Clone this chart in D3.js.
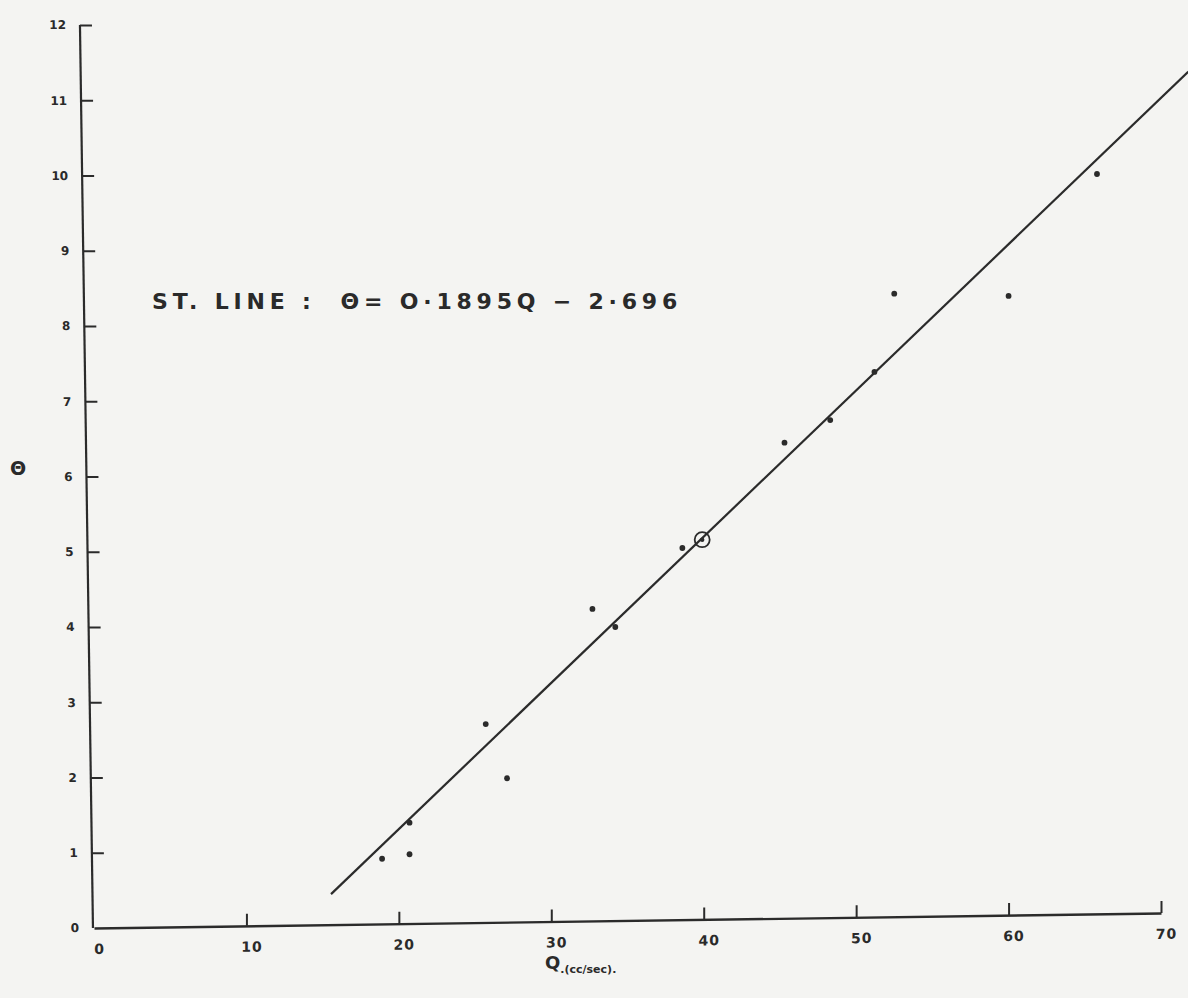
<!DOCTYPE html>
<html>
<head>
<meta charset="utf-8">
<script src="https://cdn.jsdelivr.net/npm/d3@7"></script>
<style>
  html, body { margin: 0; padding: 0; background: #f4f4f2; }
  svg { display: block; }
  text { font-family: "DejaVu Sans", sans-serif; fill: #2a2a2a; }
</style>
</head>
<body>
<svg id="chart" width="1188" height="998"></svg>
<script>
// ---- data ----
const xTicks = [0, 10, 20, 30, 40, 50, 60, 70];
const yTicks = [0, 1, 2, 3, 4, 5, 6, 7, 8, 9, 10, 11, 12];
// observed points: Q (cc/sec) and theta
const pointQ     = [18.9, 20.7, 20.7, 25.7, 27.1, 32.7, 34.2, 38.6, 45.3, 48.3, 51.2, 52.5, 60.0, 65.8];
const pointTheta = [0.92, 0.98, 1.40, 2.71, 1.99, 4.24, 4.00, 5.05, 6.45, 6.75, 7.39, 8.43, 8.40, 10.02];
// circled (highlighted) point
const circledQ = [39.9];
const circledTheta = [5.16];
// fitted straight line, end points as drawn
const lineQ = [15.55, 71.8];
const lineTheta = [0.45, 11.38];
const equationText = "ST. LINE :  \u0398= O\u00B71895Q \u2212 2\u00B7696";
const xLabel = "Q";
const xUnit = ".(cc/sec).";
const yLabel = "\u0398";

// ---- drawing ----
const svg = d3.select("#chart");
const x = d3.scaleLinear().domain([0, 70]).range([94, 1161]);
const y = d3.scaleLinear().domain([0, 12]).range([928, 25]);
const ink = "#2b2b2b";

// y axis (slightly tilted as hand drawn)
const yAxis = d3.axisLeft(y).tickValues(yTicks.filter(d => d > 0)).tickSizeInner(-12).tickSizeOuter(0).tickPadding(14);
const gy = svg.append("g")
  .attr("transform", "translate(79.6,0) skewX(0.825)")
  .call(yAxis);
gy.select(".domain").attr("d", `M0,${y(0)}V${y(12)}`).attr("stroke", ink).attr("stroke-width", 2.2);
gy.selectAll(".tick line").attr("stroke", ink).attr("stroke-width", 2);
gy.selectAll(".tick text").attr("font-size", 12).attr("font-weight", "bold").attr("fill", ink);
// zero label for y
svg.append("g").attr("transform", "translate(79.6,0) skewX(0.825)")
  .append("text").attr("x", -14).attr("y", y(0)).attr("dy", "0.32em")
  .attr("text-anchor", "end").attr("font-size", 12).attr("font-weight", "bold").text("0");

// x axis (slightly tilted)
const xAxis = d3.axisBottom(x).tickValues(xTicks).tickSizeInner(-12).tickSizeOuter(0).tickPadding(16);
const gx = svg.append("g")
  .attr("transform", "translate(0,929.3) skewY(-0.806)")
  .call(xAxis);
gx.select(".domain").attr("stroke", ink).attr("stroke-width", 2.4);
gx.selectAll(".tick line").attr("stroke", ink).attr("stroke-width", 2)
  .attr("y2", d => d === 0 ? 0 : -12);
gx.selectAll(".tick text").attr("font-size", 14).attr("font-weight", "bold").attr("fill", ink)
  .attr("dx", 5).attr("letter-spacing", "1px");

// fitted line
svg.append("path")
  .datum(lineQ.map((q, i) => [q, lineTheta[i]]))
  .attr("d", d3.line().x(d => x(d[0])).y(d => y(d[1])))
  .attr("stroke", ink).attr("stroke-width", 2.2).attr("fill", "none");

// points
svg.append("g").selectAll("circle")
  .data(pointQ.map((q, i) => [q, pointTheta[i]]))
  .join("circle")
  .attr("cx", d => x(d[0])).attr("cy", d => y(d[1]))
  .attr("r", 2.9).attr("fill", ink);

// circled point
const cg = svg.append("g").selectAll("g")
  .data(circledQ.map((q, i) => [q, circledTheta[i]]))
  .join("g");
cg.append("circle").attr("cx", d => x(d[0])).attr("cy", d => y(d[1]))
  .attr("r", 7.5).attr("fill", "none").attr("stroke", ink).attr("stroke-width", 1.8);
cg.append("circle").attr("cx", d => x(d[0])).attr("cy", d => y(d[1]))
  .attr("r", 2.2).attr("fill", ink);

// equation annotation
svg.append("text")
  .attr("x", 152).attr("y", 309)
  .attr("font-size", 22).attr("font-weight", "bold").attr("letter-spacing", "4.8px")
  .attr("xml:space", "preserve").style("white-space", "pre")
  .text(equationText);

// axis titles
svg.append("text").attr("x", 18).attr("y", 475).attr("text-anchor", "middle")
  .attr("font-size", 19).attr("font-weight", "bold").text(yLabel);
const xt = svg.append("text").attr("x", 545).attr("y", 969).attr("font-weight", "bold");
xt.append("tspan").attr("font-size", 18).text(xLabel);
xt.append("tspan").attr("font-size", 11).attr("dy", 4).text(xUnit);
</script>
</body>
</html>
